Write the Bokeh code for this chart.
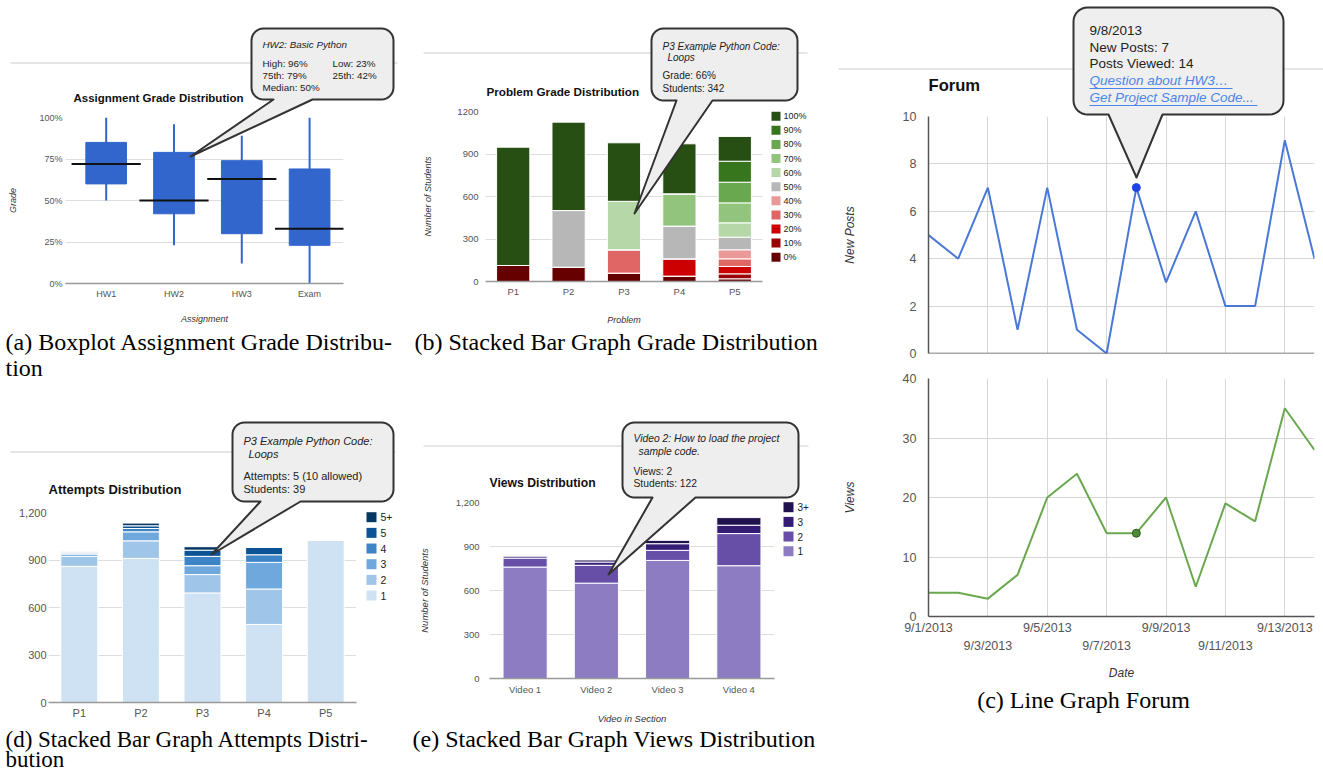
import math
from bokeh.plotting import figure
from bokeh.layouts import row, column
from bokeh.models import (ColumnDataSource, FactorRange, Range1d, FixedTicker, Label, GridBox,
                          PolyAnnotation, LinearAxis, NumeralTickFormatter, Span)
from bokeh.embed import file_html
from bokeh.resources import INLINE

SANS = "Liberation Sans"
SERIF = "Liberation Serif"

# ---------------- data ----------------
assignments = ["HW1", "HW2", "HW3", "Exam"]
grade_low = [50, 23, 12, 0]
grade_q1 = [60, 42, 30, 23]
grade_median = [72, 50, 63, 33]
grade_q3 = [85, 79, 74, 69]
grade_high = [100, 96, 89, 100]
grade_ticks = [0, 25, 50, 75, 100]
grade_tick_labels = ["0%", "25%", "50%", "75%", "100%"]

problems = ["P1", "P2", "P3", "P4", "P5"]
grade_levels = ["0%", "10%", "20%", "30%", "40%", "50%", "60%", "70%", "80%", "90%", "100%"]
grade_colors = ["#660000", "#990000", "#cc0000", "#e06666", "#ea9999", "#b7b7b7",
                "#b6d7a8", "#93c47d", "#6aa84f", "#38761d", "#274e13"]
students_0 = [113, 101, 59, 38, 19]
students_10 = [0, 0, 0, 0, 35]
students_20 = [0, 0, 0, 122, 52]
students_30 = [0, 0, 165, 0, 54]
students_40 = [0, 0, 0, 0, 64]
students_50 = [0, 400, 0, 231, 89]
students_60 = [0, 0, 342, 0, 101]
students_70 = [0, 0, 0, 228, 141]
students_80 = [0, 0, 0, 0, 146]
students_90 = [0, 0, 0, 0, 148]
students_100 = [835, 624, 413, 353, 175]
grade_counts = [students_0, students_10, students_20, students_30, students_40, students_50,
                students_60, students_70, students_80, students_90, students_100]
count_ticks = [0, 300, 600, 900, 1200]

attempt_levels = ["1", "2", "3", "4", "5", "5+"]
attempt_colors = ["#cfe2f3", "#9fc5e8", "#6fa8dc", "#3d85c6", "#0b5394", "#073763"]
attempts_1 = [860, 910, 692, 493, 1026]
attempts_2 = [63, 111, 116, 224, 0]
attempts_3 = [14, 57, 56, 168, 0]
attempts_4 = [7, 21, 59, 48, 0]
attempts_5 = [4, 17, 39, 47, 0]
attempts_5plus = [6, 17, 22, 0, 0]
attempt_counts = [attempts_1, attempts_2, attempts_3, attempts_4, attempts_5, attempts_5plus]

videos = ["Video 1", "Video 2", "Video 3", "Video 4"]
view_levels = ["1", "2", "3", "3+"]
view_colors = ["#8e7cc3", "#674ea7", "#351c75", "#20124d"]
views_1 = [760, 650, 805, 769]
views_2 = [61, 122, 69, 219]
views_3 = [14, 22, 45, 57]
views_3plus = [4, 14, 23, 52]
view_counts = [views_1, views_2, views_3, views_3plus]

forum_dates = ["9/1/2013", "9/2/2013", "9/3/2013", "9/4/2013", "9/5/2013", "9/6/2013", "9/7/2013",
               "9/8/2013", "9/9/2013", "9/10/2013", "9/11/2013", "9/12/2013", "9/13/2013", "9/14/2013"]
new_posts = [5, 4, 7, 1, 7, 1, 0, 7, 3, 6, 2, 2, 9, 4]
post_views = [4, 4, 3, 7, 20, 24, 14, 14, 20, 5, 19, 16, 35, 28]
highlight_date = "9/8/2013"
posts_ticks = [0, 2, 4, 6, 8, 10]
views_ticks = [0, 10, 20, 30, 40]

W, H = 1323, 774


# ---------------- helpers ----------------
def make_fig(ox, oy, w, h, frame, **kw):
    fl, ft, fr, fb = frame
    p = figure(width=w, height=h, output_backend="svg", toolbar_location=None,
               min_border_left=int(fl - ox), min_border_right=int(ox + w - fr),
               min_border_top=int(ft - oy), min_border_bottom=int(oy + h - fb), **kw)
    p.outline_line_color = None
    p.background_fill_color = "white"
    p.border_fill_color = "white"
    if "frame_align" in p.properties():
        p.frame_align = False
    return p


def style_axis(ax, tick_size, label_size, tick_standoff, label_standoff, line_color=None, line_width=1):
    ax.major_label_text_font = SANS
    ax.major_label_text_font_size = f"{tick_size}px"
    ax.major_label_text_color = "#555555"
    ax.major_label_standoff = tick_standoff
    ax.axis_label_text_font = SANS
    ax.axis_label_text_font_size = f"{label_size}px"
    ax.axis_label_text_font_style = "italic"
    ax.axis_label_text_color = "#333333"
    ax.axis_label_standoff = label_standoff
    ax.major_tick_line_color = None
    ax.minor_tick_line_color = None
    ax.major_tick_out = 0
    ax.major_tick_in = 0
    ax.axis_line_color = line_color
    ax.axis_line_width = line_width


# overlay figure in page pixels (y down) for titles, captions, legends and callouts
ov = figure(width=W, height=H, output_backend="svg", toolbar_location=None,
            x_range=Range1d(0, W), y_range=Range1d(H, 0), min_border=0,
            x_axis_location=None, y_axis_location=None)
ov.grid.visible = False
ov.outline_line_color = None
ov.background_fill_color = None
ov.border_fill_color = None
if "frame_align" in ov.properties():
    ov.frame_align = False


def label(X, Y, text, size, style="normal", color="#222222", font=SANS, align="left", baseline="middle"):
    ov.add_layout(Label(x=X, y=Y, text=text, text_font=font, text_font_size=f"{size}px",
                        text_font_style=style, text_color=color, text_align=align,
                        text_baseline=baseline))


def poly(XS, YS, fill=None, line="#333333", lw=1):
    ov.add_layout(PolyAnnotation(xs=list(XS), ys=list(YS),
                                 fill_color=fill, fill_alpha=1.0 if fill else 0.0,
                                 line_color=line, line_alpha=1.0, line_width=lw, line_join="round"))


def hline(x0, x1, y, color="#cccccc", lw=1):
    poly([x0, x1], [y, y], fill=None, line=color, lw=lw)


def bubble(box, base, tip, r=12, fill="#eeeeee"):
    x0, y0, x1, y1 = box
    bx0, bx1 = base
    tx, ty = tip
    pts = []
    n = 8

    def arc(cx, cy, a0, a1):
        for k in range(n + 1):
            a = a0 + (a1 - a0) * k / n
            pts.append((cx + r * math.cos(a), cy + r * math.sin(a)))

    arc(x0 + r, y0 + r, math.pi, 1.5 * math.pi)
    arc(x1 - r, y0 + r, 1.5 * math.pi, 2 * math.pi)
    arc(x1 - r, y1 - r, 0, 0.5 * math.pi)
    pts.extend([(bx1, y1), (tx, ty), (bx0, y1)])
    arc(x0 + r, y1 - r, 0.5 * math.pi, math.pi)
    poly([q[0] for q in pts], [q[1] for q in pts], fill=fill, line="#333333", lw=2)


def legend(xsq, size, xlab, y_first, step, labels, colors, font_size):
    for i, (lab, col) in enumerate(zip(labels, colors)):
        Y = y_first + i * step
        poly([xsq, xsq + size, xsq + size, xsq],
             [Y - size / 2, Y - size / 2, Y + size / 2, Y + size / 2], fill=col, line=None)
        label(xlab, Y, lab, font_size)


def caption(X, Y, text, align="left", size=24):
    label(X, Y, text, size, font=SERIF, color="#000000", align=align, baseline="middle")


# ---------------- (a) boxplot ----------------
FA = (65, 117, 343, 283)
pa = make_fig(0, 0, 410, 384, FA, x_range=Range1d(-0.6, 3.5), y_range=Range1d(0, 100))
xa = list(range(len(assignments)))
src_a = ColumnDataSource(dict(x=xa, low=grade_low, q1=grade_q1, med=grade_median, q3=grade_q3,
                              high=grade_high, mx0=[i - 0.51 for i in xa], mx1=[i + 0.51 for i in xa]))
pa.segment(x0="x", y0="low", x1="x", y1="high", line_color="#3366cc", line_width=2, source=src_a)
pa.vbar(x="x", bottom="q1", top="q3", width=0.6, fill_color="#3366cc", line_color="#3366cc", source=src_a)
pa.segment(x0="mx0", y0="med", x1="mx1", y1="med", line_color="#111111", line_width=2, source=src_a)
pa.xaxis.ticker = FixedTicker(ticks=xa)
pa.xaxis.major_label_overrides = {i: a for i, a in zip(xa, assignments)}
pa.yaxis.ticker = FixedTicker(ticks=grade_ticks)
pa.yaxis.major_label_overrides = {t: s for t, s in zip(grade_ticks, grade_tick_labels)}
pa.xaxis.axis_label = "Assignment"
pa.yaxis.axis_label = "Grade"
style_axis(pa.xaxis[0], 9, 9, 5, 12, line_color="#999999", line_width=1.5)
style_axis(pa.yaxis[0], 9, 9, 3, 18)
pa.xgrid.grid_line_color = None
pa.ygrid.grid_line_color = "#dddddd"

# ---------------- (b) grade stacked bars ----------------
FB = (485, 111, 762, 281)
pb = make_fig(410, 0, 426, 384, FB, x_range=FactorRange(*problems), y_range=Range1d(0, 1200))
src_b = ColumnDataSource(dict(problem=problems, **{lv: vals for lv, vals in zip(grade_levels, grade_counts)}))
pb.vbar_stack(grade_levels, x="problem", width=0.6, color=grade_colors, source=src_b,
              line_color="white", line_width=1)
pb.yaxis.ticker = FixedTicker(ticks=count_ticks)
pb.xaxis.axis_label = "Problem"
pb.yaxis.axis_label = "Number of Students"
style_axis(pb.xaxis[0], 9.5, 9, 4, 15, line_color="#999999", line_width=1.5)
style_axis(pb.yaxis[0], 9.5, 9, 7, 21)
pb.xgrid.grid_line_color = None
pb.ygrid.grid_line_color = "#dddddd"

# ---------------- (d) attempts stacked bars ----------------
FD = (48, 512, 356, 702)
pd_ = make_fig(0, 384, 410, 390, FD, x_range=FactorRange(*problems), y_range=Range1d(0, 1200))
src_d = ColumnDataSource(dict(problem=problems, **{lv: vals for lv, vals in zip(attempt_levels, attempt_counts)}))
pd_.vbar_stack(attempt_levels, x="problem", width=0.6, color=attempt_colors, source=src_d,
               line_color="white", line_width=1)
pd_.yaxis.ticker = FixedTicker(ticks=count_ticks)
pd_.yaxis.formatter = NumeralTickFormatter(format="0,0")
style_axis(pd_.xaxis[0], 11, 10, 4, 10, line_color="#999999", line_width=1.5)
style_axis(pd_.yaxis[0], 11, 10, 2, 10)
pd_.xgrid.grid_line_color = None
pd_.ygrid.grid_line_color = "#dddddd"

# ---------------- (e) views stacked bars ----------------
FE = (489, 502, 774, 678)
pe = make_fig(410, 384, 426, 390, FE, x_range=FactorRange(*videos), y_range=Range1d(0, 1200))
src_e = ColumnDataSource(dict(video=videos, **{lv: vals for lv, vals in zip(view_levels, view_counts)}))
pe.vbar_stack(view_levels, x="video", width=0.62, color=view_colors, source=src_e,
              line_color="white", line_width=1)
pe.yaxis.ticker = FixedTicker(ticks=count_ticks)
pe.yaxis.formatter = NumeralTickFormatter(format="0,0")
pe.xaxis.axis_label = "Video in Section"
pe.yaxis.axis_label = "Number of Students"
style_axis(pe.xaxis[0], 9.5, 9.5, 5, 15, line_color="#999999", line_width=1.5)
style_axis(pe.yaxis[0], 9.5, 9.5, 10, 23)
pe.xgrid.grid_line_color = None
pe.ygrid.grid_line_color = "#dddddd"

# ---------------- (c) forum line graphs ----------------
days = list(range(1, len(forum_dates) + 1))
sel = forum_dates.index(highlight_date)
grid_days = days[::2]

FC1 = (928, 116, 1314, 353)
pc1 = make_fig(836, 0, 487, 365, FC1, x_range=Range1d(days[0], days[-1]), y_range=Range1d(0, 10))
pc1.line(days, new_posts, line_color="#4a78d8", line_width=2)
pc1.scatter([days[sel]], [new_posts[sel]], size=8, fill_color="#1f44e6", line_color="#1f44e6")
pc1.xaxis.visible = False
pc1.xgrid.ticker = FixedTicker(ticks=grid_days)
pc1.xgrid.grid_line_color = "#d6d6d6"
pc1.ygrid.grid_line_color = "#d6d6d6"
pc1.yaxis.ticker = FixedTicker(ticks=posts_ticks)
pc1.yaxis.axis_label = "New Posts"
style_axis(pc1.yaxis[0], 12.5, 12, 12, 43, line_color="#555555", line_width=1.5)
pc1.add_layout(Span(location=0, dimension="width", line_color="#555555", line_width=1.5))

FC2 = (928, 378, 1314, 616)
pc2 = make_fig(836, 365, 487, 409, FC2, x_range=Range1d(days[0], days[-1]), y_range=Range1d(0, 40))
pc2.line(days, post_views, line_color="#6aa84f", line_width=2)
pc2.scatter([days[sel]], [post_views[sel]], size=8, fill_color="#4f8a35", line_color="#2d5a1a")
pc2.xaxis.ticker = FixedTicker(ticks=days[0::4])
pc2.xaxis.major_label_overrides = {d: forum_dates[d - 1] for d in days[0::4]}
style_axis(pc2.xaxis[0], 12.5, 12, 4, 10, line_color="#555555", line_width=1.5)
ax2 = LinearAxis(ticker=FixedTicker(ticks=days[2::4]),
                 major_label_overrides={d: forum_dates[d - 1] for d in days[2::4]},
                 axis_label="Date")
style_axis(ax2, 12.5, 12, 1, 10)
pc2.add_layout(ax2, "below")
pc2.xgrid.ticker = FixedTicker(ticks=grid_days)
pc2.xgrid.grid_line_color = "#d6d6d6"
pc2.ygrid.grid_line_color = "#d6d6d6"
pc2.yaxis.ticker = FixedTicker(ticks=views_ticks)
pc2.yaxis.axis_label = "Views"
style_axis(pc2.yaxis[0], 12.5, 12, 12, 43, line_color="#555555", line_width=1.5)

# ---------------- overlay decorations ----------------
# (a)
hline(10, 397, 62.5)
label(73, 97, "Assignment Grade Distribution", 11.5, style="bold", color="#111111")
bubble((251, 28, 393, 99), (273, 312), (190, 156))
label(262, 44, "HW2: Basic Python", 9.8, style="italic")
label(262, 63, "High: 96%", 9.8)
label(332, 63, "Low: 23%", 9.8)
label(262, 75, "75th: 79%", 9.8)
label(332, 75, "25th: 42%", 9.8)
label(262, 87, "Median: 50%", 9.8)
caption(5, 341, "(a) Boxplot Assignment Grade Distribu-")
caption(5, 367, "tion")

# (b)
hline(423, 807, 52.5)
label(486, 91, "Problem Grade Distribution", 11.7, style="bold", color="#111111")
legend(771, 9, 783, 115.7, 14.1, grade_levels[::-1], grade_colors[::-1], 9)
bubble((651, 28, 797, 100), (676, 712), (634, 213))
label(662, 46, "P3 Example Python Code:", 10, style="italic")
label(667, 57, "Loops", 10, style="italic")
label(662, 75, "Grade: 66%", 10)
label(662, 88, "Students: 342", 10)
caption(414, 341, "(b) Stacked Bar Graph Grade Distribution")

# (d)
hline(10, 395, 451.5)
label(48, 489, "Attempts Distribution", 13, style="bold", color="#111111")
legend(366, 10, 380, 516.7, 15.67, attempt_levels[::-1], attempt_colors[::-1], 10.5)
bubble((232, 422, 393, 501), (260, 300), (211, 554))
label(243, 440, "P3 Example Python Code:", 11, style="italic")
label(248, 453, "Loops", 11, style="italic")
label(243, 475, "Attempts: 5 (10 allowed)", 11)
label(243, 488, "Students: 39", 11)
caption(5, 739, "(d) Stacked Bar Graph Attempts Distri-", size=23)
caption(5, 759, "bution", size=23)

# (e)
hline(423, 808, 445.5)
label(489, 482, "Views Distribution", 12.2, style="bold", color="#111111")
legend(783, 10, 797, 506.7, 14.67, view_levels[::-1], view_colors[::-1], 10)
bubble((622, 422, 798, 497), (652, 695), (608, 574))
label(633, 438, "Video 2: How to load the project", 10.3, style="italic")
label(638, 451, "sample code.", 10.3, style="italic")
label(633, 471, "Views: 2", 10.3)
label(633, 483, "Students: 122", 10.3)
caption(412, 738, "(e) Stacked Bar Graph Views Distribution")

# (c)
hline(838, 1323, 68.5)
label(928, 85, "Forum", 16.6, style="bold", color="#111111")
bubble((1073, 7, 1283, 114), (1108, 1162), (1136, 177), r=14, fill="#efefef")
label(1089, 30, highlight_date, 13.5)
label(1089, 47, f"New Posts: {new_posts[sel]}", 13.5)
label(1089, 63, f"Posts Viewed: {post_views[sel]}", 13.5)
label(1089, 80, "Question about HW3\u2026", 13.5, style="italic", color="#4a86e8")
label(1089, 97, "Get Project Sample Code...", 13.5, style="italic", color="#4a86e8")
hline(1089, 1232, 88, color="#4a86e8", lw=1)
hline(1089, 1257, 105, color="#4a86e8", lw=1)
caption(1083, 699, "(c) Line Graph Forum", align="center")

main = row(column(pa, pd_, spacing=0), column(pb, pe, spacing=0), column(pc1, pc2, spacing=0), spacing=0)
page = GridBox(children=[(main, 0, 0), (ov, 0, 0)], spacing=0)

with open("out.html", "w") as f:
    f.write(file_html(page, INLINE))
